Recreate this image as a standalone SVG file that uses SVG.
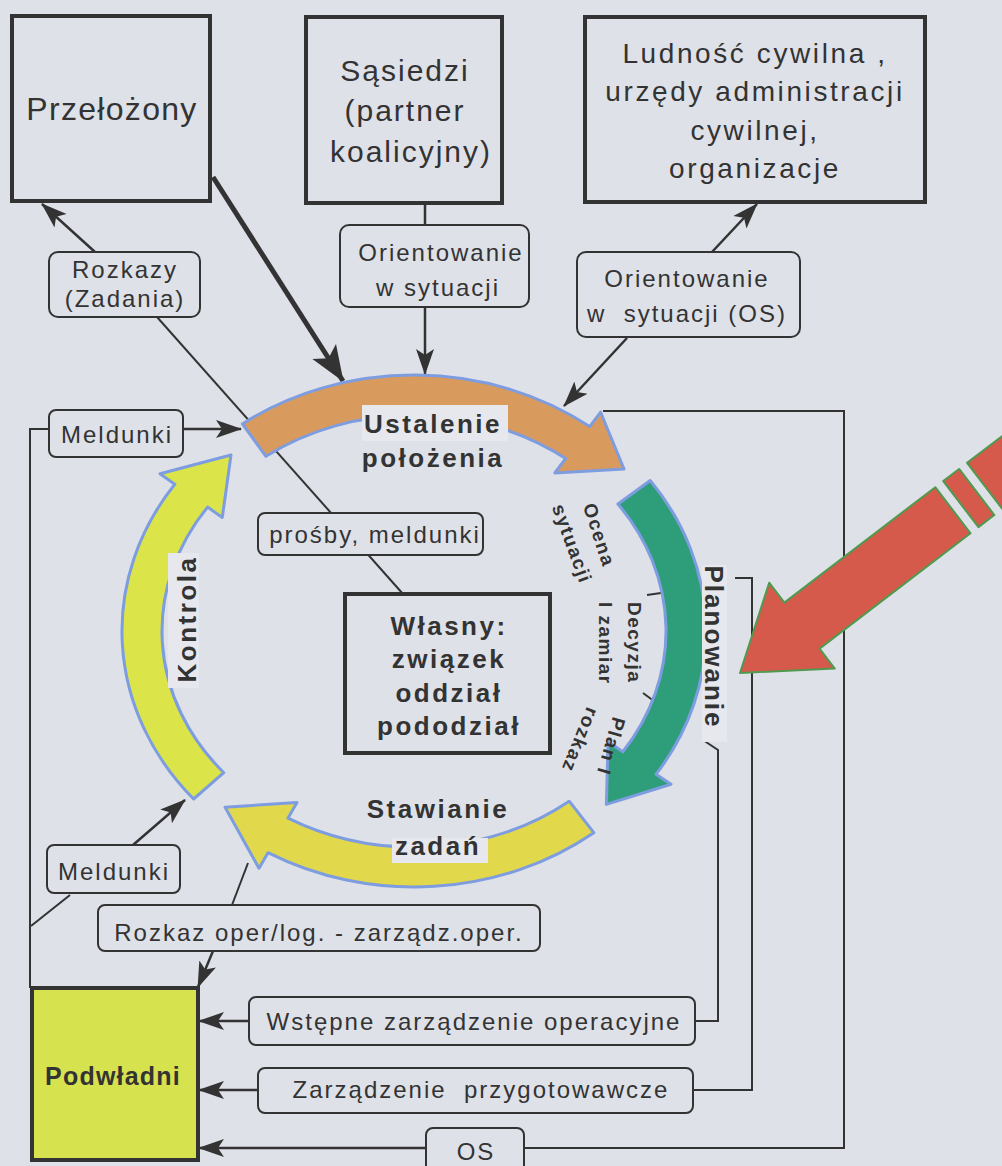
<svg xmlns="http://www.w3.org/2000/svg" width="1002" height="1166" viewBox="0 0 1002 1166">
<defs>
<style>
text{font-family:"Liberation Sans",Arial,sans-serif;fill:#333}
.bx{fill:none;stroke:#333;stroke-width:4}
.lb{fill:#dee1e8;stroke:#333;stroke-width:2}
.t24{font-size:24px;letter-spacing:2px}
.ln{fill:none;stroke:#333;stroke-width:2}
.ar{fill:none;stroke:#333;stroke-width:2.5}
.arc{stroke:#7d9de0;stroke-width:3;stroke-linejoin:round}
.bold{font-weight:bold}
.lab{fill:#e6e8ee}
.gl{font-size:19px;font-weight:bold;letter-spacing:1.5px}
</style>
<marker id="ah" markerUnits="userSpaceOnUse" markerWidth="26" markerHeight="20" viewBox="0 0 26 20" refX="25" refY="10" orient="auto">
<path d="M0,1 L26,10 L0,19 L6,10 Z" fill="#333"/>
</marker>
<marker id="ahb" markerUnits="userSpaceOnUse" markerWidth="36" markerHeight="30" viewBox="0 0 36 30" refX="35" refY="15" orient="auto">
<path d="M0,1 L36,15 L0,29 L8,15 Z" fill="#333"/>
</marker>
</defs>
<rect width="1002" height="1166" fill="#dee1e8"/>

<g id="connectors">
<line class="ln" x1="157" y1="317" x2="403" y2="594"/>
<line class="ar" x1="95" y1="252" x2="42" y2="204" marker-end="url(#ah)"/>
<line x1="213" y1="177" x2="343" y2="381" stroke="#333" stroke-width="5" marker-end="url(#ahb)"/>
<line class="ar" x1="425" y1="203" x2="425" y2="225" stroke-width="3"/>
<line class="ar" x1="425" y1="307" x2="425" y2="374" marker-end="url(#ah)"/>
<line class="ar" x1="712" y1="252" x2="757" y2="204" marker-end="url(#ah)"/>
<line class="ar" x1="627" y1="338" x2="564" y2="406" marker-end="url(#ah)"/>
<line class="ar" x1="183" y1="429" x2="241" y2="429" marker-end="url(#ah)"/>
<polyline class="ln" points="49,429 30,429 30,988"/>
<line class="ar" x1="133" y1="845" x2="185" y2="800" marker-end="url(#ah)"/>
<line class="ln" x1="70" y1="895" x2="31" y2="926"/>
<line class="ln" x1="248" y1="863" x2="232" y2="905"/>
<line class="ar" x1="213" y1="951" x2="198" y2="987" marker-end="url(#ah)"/>
<line class="ar" x1="249" y1="1021" x2="199" y2="1021" marker-end="url(#ah)"/>
<polyline class="ln" points="695,1021 718,1021 718,750 703,740"/>
<line class="ar" x1="258" y1="1090" x2="199" y2="1090" marker-end="url(#ah)"/>
<polyline class="ln" points="693,1090 752,1090 752,578 735,578"/>
<line class="ar" x1="426" y1="1148" x2="199" y2="1148" marker-end="url(#ah)"/>
<polyline class="ln" points="524,1148 844,1148 844,411 603,411"/>
<line class="ln" x1="647" y1="595" x2="668" y2="592"/>
<line class="ln" x1="643" y1="693" x2="662" y2="707"/>
</g>

<g id="cycle">
<path id="arc-ustalenie" class="arc" fill="#d99a5e" d="M242.4,423.9 A292,256 0 0 1 589.7,426.6 L600.6,412.2 L624,469 L554.8,472.9 L565.7,458.5 A252,216 0 0 0 265.9,456.3 Z"/>
<path id="arc-planowanie" class="arc" fill="#2e9e7a" d="M650.2,480.5 A292,256 0 0 1 656.1,774.2 L671,784.2 L606.4,804.4 L608,741.7 L622.9,751.8 A252,216 0 0 0 617.9,504 Z"/>
<path id="arc-stawianie" class="arc" fill="#e2d84c" d="M593.8,832.7 A292,256 0 0 1 268,852.7 L259,868.3 L225.1,807.3 L297,802.5 L288,818.1 A252,216 0 0 0 569.2,801.2 Z"/>
<path id="arc-kontrola" class="arc" fill="#dbe54a" d="M193.6,799 A292,256 0 0 1 174.8,484.2 L160,473.8 L231,455 L222.3,517.4 L207.6,507.1 A252,216 0 0 0 223.8,772.7 Z"/>
<rect class="lab" x="362" y="405" width="146" height="36"/>
<text class="bold" x="433" y="433" font-size="26" letter-spacing="2.5" text-anchor="middle">Ustalenie</text>
<text class="bold" x="433" y="467" font-size="26" letter-spacing="2.5" text-anchor="middle">położenia</text>
<text class="bold" x="438" y="818" font-size="26" letter-spacing="2.5" text-anchor="middle">Stawianie</text>
<rect class="lab" x="392" y="838" width="96" height="25"/>
<text class="bold" x="438" y="855" font-size="26" letter-spacing="2.5" text-anchor="middle">zadań</text>
<rect class="lab" x="702" y="565" width="25" height="177"/>
<text class="bold" transform="translate(705,647) rotate(90)" font-size="26" letter-spacing="2" text-anchor="middle">Planowanie</text>
<rect class="lab" x="168" y="553" width="31" height="135"/>
<text class="bold" transform="translate(196,619) rotate(-90)" font-size="26" letter-spacing="2.5" text-anchor="middle">Kontrola</text>
<text class="gl" transform="translate(593,537) rotate(72)" text-anchor="middle">Ocena</text>
<text class="gl" transform="translate(566,546) rotate(70)" text-anchor="middle">sytuacji</text>
<text class="gl" transform="translate(628,602) rotate(90)">Decyzja</text>
<text class="gl" transform="translate(599,602) rotate(90)">I zamiar</text>
<text class="gl" transform="translate(613,716) rotate(106)">Plan I</text>
<text class="gl" transform="translate(587,706) rotate(112)">rozkaz</text>
</g>

<g id="przelozony">
<rect class="bx" x="12" y="16" width="198" height="185"/>
<text x="112" y="120" font-size="32" letter-spacing="1.3" text-anchor="middle">Przełożony</text>
</g>
<g id="sasiedzi">
<rect class="bx" x="306" y="17" width="196" height="186"/>
<text x="405" y="81" font-size="30" letter-spacing="2" text-anchor="middle">Sąsiedzi</text>
<text x="405" y="121" font-size="30" letter-spacing="2" text-anchor="middle">(partner</text>
<text x="411" y="162" font-size="30" letter-spacing="2" text-anchor="middle">koalicyjny)</text>
</g>
<g id="ludnosc">
<rect class="bx" x="585" y="17" width="340" height="185"/>
<text x="755" y="63" font-size="28" letter-spacing="2.6" text-anchor="middle">Ludność cywilna ,</text>
<text x="755" y="101" font-size="28" letter-spacing="2.6" text-anchor="middle">urzędy administracji</text>
<text x="755" y="140" font-size="28" letter-spacing="2.6" text-anchor="middle">cywilnej,</text>
<text x="755" y="178" font-size="28" letter-spacing="2.6" text-anchor="middle">organizacje</text>
</g>
<g id="rozkazy">
<rect class="lb" x="49" y="252" width="151" height="65" rx="9"/>
<text class="t24" x="125" y="278" text-anchor="middle">Rozkazy</text>
<text class="t24" x="125" y="307" text-anchor="middle">(Zadania)</text>
</g>
<g id="orientowanie1">
<rect class="lb" x="340" y="225" width="189" height="82" rx="9"/>
<text class="t24" x="441" y="261" text-anchor="middle">Orientowanie</text>
<text class="t24" x="438" y="296" text-anchor="middle">w sytuacji</text>
</g>
<g id="orientowanie2">
<rect class="lb" x="577" y="252" width="223" height="85" rx="9"/>
<text class="t24" x="687" y="287" text-anchor="middle">Orientowanie</text>
<text class="t24" x="687" y="322" text-anchor="middle" xml:space="preserve">w  sytuacji (OS)</text>
</g>
<g id="meldunki1">
<rect class="lb" x="49" y="410" width="134" height="47" rx="7"/>
<text class="t24" x="117" y="443" text-anchor="middle">Meldunki</text>
</g>
<g id="prosby">
<rect class="lb" x="258" y="513" width="225" height="42" rx="7"/>
<text class="t24" x="375" y="543" text-anchor="middle">prośby, meldunki</text>
</g>
<g id="wlasny">
<rect class="bx" x="345" y="594" width="205" height="159"/>
<text class="bold" x="449" y="635" font-size="26" letter-spacing="2.5" text-anchor="middle">Własny:</text>
<text class="bold" x="449" y="668" font-size="26" letter-spacing="2.5" text-anchor="middle">związek</text>
<text class="bold" x="449" y="702" font-size="26" letter-spacing="2.5" text-anchor="middle">oddział</text>
<text class="bold" x="449" y="735" font-size="26" letter-spacing="2.5" text-anchor="middle">pododział</text>
</g>
<g id="meldunki2">
<rect class="lb" x="47" y="845" width="133" height="48" rx="7"/>
<text class="t24" x="114" y="880" text-anchor="middle">Meldunki</text>
</g>
<g id="rozkaz">
<rect class="lb" x="98" y="905" width="442" height="46" rx="7"/>
<text class="t24" x="319" y="941" text-anchor="middle">Rozkaz oper/log. - zarządz.oper.</text>
</g>
<g id="podwladni">
<rect x="32" y="988" width="166" height="172" fill="#d6e34e" stroke="#333" stroke-width="4"/>
<text class="bold" x="113" y="1085" font-size="25" letter-spacing="1.2" text-anchor="middle">Podwładni</text>
</g>
<g id="wstepne">
<rect class="lb" x="249" y="997" width="446" height="48" rx="7"/>
<text class="t24" x="474" y="1030" text-anchor="middle">Wstępne zarządzenie operacyjne</text>
</g>
<g id="zarzadzenie">
<rect class="lb" x="258" y="1068" width="435" height="45" rx="7"/>
<text class="t24" x="481" y="1098" text-anchor="middle" xml:space="preserve">Zarządzenie  przygotowawcze</text>
</g>
<g id="os">
<rect class="lb" x="426" y="1128" width="98" height="50" rx="7"/>
<text class="t24" x="476" y="1160" text-anchor="middle">OS</text>
</g>

<g id="red-arrow" transform="translate(740,673) rotate(-37.4)" fill="#d65a4c" stroke="#4f9a4f" stroke-width="2" stroke-linejoin="round">
<path d="M0,0 L78,-54 L78,-29 L268,-29 L268,29 L78,29 L78,54 Z"/>
<path d="M278,-29 L298,-29 L298,29 L278,29 Z"/>
<path d="M308,-29 L360,-29 L360,29 L308,29 Z"/>
</g>
</svg>
